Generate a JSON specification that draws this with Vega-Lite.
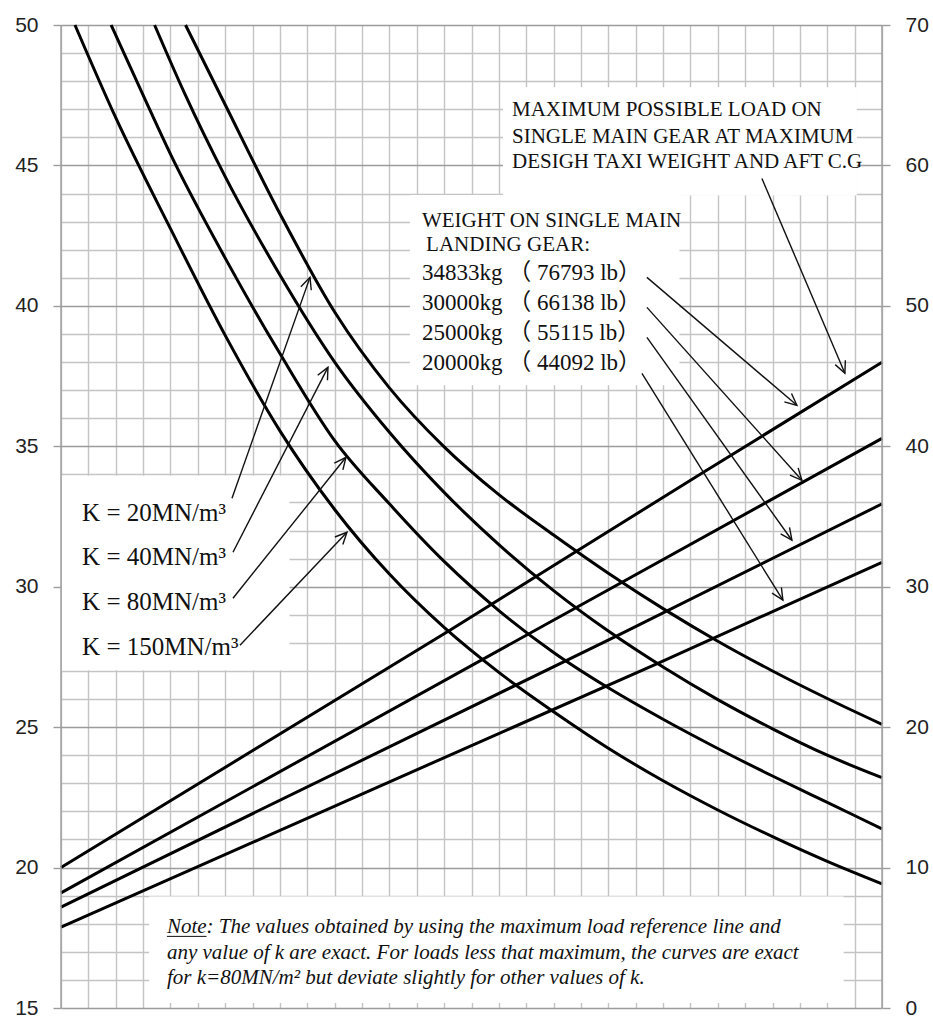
{
  "$schema": "https://vega.github.io/schema/vega-lite/v6.json",
  "width": 821,
  "height": 983,
  "autosize": {"type": "none"},
  "padding": {"left": 61, "top": 25, "right": 51, "bottom": 12},
  "background": "white",
  "config": {
    "view": {"stroke": null},
    "axis": {"labelFont": "Liberation Sans", "labelFontSize": 21, "labelColor": "#222", "title": null}
  },
  "datasets": {
    "curves": [
      {"s": "K20", "x": 4.55, "y": 50}, {"s": "K20", "x": 6, "y": 47.16}, {"s": "K20", "x": 8, "y": 43.28}, {"s": "K20", "x": 10, "y": 39.78}, {"s": "K20", "x": 12, "y": 37.08}, {"s": "K20", "x": 14, "y": 34.98}, {"s": "K20", "x": 16, "y": 33.28}, {"s": "K20", "x": 18, "y": 31.84}, {"s": "K20", "x": 20, "y": 30.48}, {"s": "K20", "x": 22, "y": 29.22}, {"s": "K20", "x": 24, "y": 28.06}, {"s": "K20", "x": 26, "y": 27.0}, {"s": "K20", "x": 28, "y": 26.02}, {"s": "K20", "x": 30, "y": 25.1},
      {"s": "K40", "x": 3.42, "y": 50}, {"s": "K40", "x": 4.5, "y": 47.6}, {"s": "K40", "x": 6, "y": 44.6}, {"s": "K40", "x": 8, "y": 41.1}, {"s": "K40", "x": 10, "y": 38.0}, {"s": "K40", "x": 12, "y": 35.5}, {"s": "K40", "x": 14, "y": 33.36}, {"s": "K40", "x": 16, "y": 31.5}, {"s": "K40", "x": 18, "y": 29.86}, {"s": "K40", "x": 20, "y": 28.42}, {"s": "K40", "x": 22, "y": 27.14}, {"s": "K40", "x": 24, "y": 25.98}, {"s": "K40", "x": 26, "y": 24.94}, {"s": "K40", "x": 28, "y": 24.0}, {"s": "K40", "x": 30, "y": 23.2},
      {"s": "K80", "x": 1.83, "y": 50}, {"s": "K80", "x": 3, "y": 47.5}, {"s": "K80", "x": 4, "y": 45.4}, {"s": "K80", "x": 6, "y": 41.7}, {"s": "K80", "x": 8, "y": 38.3}, {"s": "K80", "x": 10, "y": 35.2}, {"s": "K80", "x": 12, "y": 32.95}, {"s": "K80", "x": 14, "y": 30.9}, {"s": "K80", "x": 16, "y": 29.15}, {"s": "K80", "x": 18, "y": 27.66}, {"s": "K80", "x": 20, "y": 26.4}, {"s": "K80", "x": 22, "y": 25.28}, {"s": "K80", "x": 24, "y": 24.24}, {"s": "K80", "x": 26, "y": 23.26}, {"s": "K80", "x": 28, "y": 22.32}, {"s": "K80", "x": 30, "y": 21.38},
      {"s": "K150", "x": 0.51, "y": 50}, {"s": "K150", "x": 2, "y": 46.7}, {"s": "K150", "x": 4, "y": 42.75}, {"s": "K150", "x": 6, "y": 38.95}, {"s": "K150", "x": 8, "y": 35.55}, {"s": "K150", "x": 10, "y": 32.75}, {"s": "K150", "x": 12, "y": 30.45}, {"s": "K150", "x": 14, "y": 28.55}, {"s": "K150", "x": 16, "y": 26.95}, {"s": "K150", "x": 18, "y": 25.55}, {"s": "K150", "x": 20, "y": 24.25}, {"s": "K150", "x": 22, "y": 23.09}, {"s": "K150", "x": 24, "y": 22.05}, {"s": "K150", "x": 26, "y": 21.1}, {"s": "K150", "x": 28, "y": 20.22}, {"s": "K150", "x": 30, "y": 19.42},
      {"s": "W34833", "x": 0, "y": 20.0}, {"s": "W34833", "x": 14.21, "y": 28.45}, {"s": "W34833", "x": 23.46, "y": 34.07}, {"s": "W34833", "x": 30, "y": 37.99},
      {"s": "W30000", "x": 0, "y": 19.1}, {"s": "W30000", "x": 18.85, "y": 29.27}, {"s": "W30000", "x": 30, "y": 35.28},
      {"s": "W25000", "x": 0, "y": 18.59}, {"s": "W25000", "x": 20.35, "y": 28.27}, {"s": "W25000", "x": 30, "y": 32.95},
      {"s": "W20000", "x": 0, "y": 17.88}, {"s": "W20000", "x": 21.89, "y": 27.31}, {"s": "W20000", "x": 30, "y": 30.87}
    ],
    "boxes": [
      {"b": "max", "x0": 16.15, "x1": 29.08, "y0": 43.93, "y1": 47.78},
      {"b": "weight", "x0": 12.75, "x1": 22.6, "y0": 37.17, "y1": 43.95},
      {"b": "k", "x0": 0.03, "x1": 8.35, "y0": 27.03, "y1": 33.95},
      {"b": "note", "x0": 3.22, "x1": 28.6, "y0": 15.18, "y1": 18.97}
    ],
    "arrows": [
      {"id": "k20s", "o": 1, "x": 6.248, "y": 33.149}, {"id": "k20s", "o": 2, "x": 9.098, "y": 41.014},
      {"id": "k20h", "o": 1, "x": 8.765, "y": 40.683}, {"id": "k20h", "o": 2, "x": 9.098, "y": 41.014}, {"id": "k20h", "o": 3, "x": 9.145, "y": 40.555},
      {"id": "k40s", "o": 1, "x": 6.284, "y": 31.228}, {"id": "k40s", "o": 2, "x": 9.755, "y": 37.811},
      {"id": "k40h", "o": 1, "x": 9.38, "y": 37.528}, {"id": "k40h", "o": 2, "x": 9.755, "y": 37.811}, {"id": "k40h", "o": 3, "x": 9.737, "y": 37.349},
      {"id": "k80s", "o": 1, "x": 6.284, "y": 29.591}, {"id": "k80s", "o": 2, "x": 10.413, "y": 34.609},
      {"id": "k80h", "o": 1, "x": 9.987, "y": 34.404}, {"id": "k80h", "o": 2, "x": 10.413, "y": 34.609}, {"id": "k80h", "o": 3, "x": 10.3, "y": 34.159},
      {"id": "k150s", "o": 1, "x": 6.54, "y": 27.918}, {"id": "k150s", "o": 2, "x": 10.449, "y": 31.94},
      {"id": "k150h", "o": 1, "x": 10.008, "y": 31.77}, {"id": "k150h", "o": 2, "x": 10.449, "y": 31.94}, {"id": "k150h", "o": 3, "x": 10.299, "y": 31.501},
      {"id": "w1s", "o": 1, "x": 21.41, "y": 41.014}, {"id": "w1s", "o": 2, "x": 26.891, "y": 36.459},
      {"id": "w1h", "o": 1, "x": 26.693, "y": 36.88}, {"id": "w1h", "o": 2, "x": 26.891, "y": 36.459}, {"id": "w1h", "o": 3, "x": 26.433, "y": 36.583},
      {"id": "w2s", "o": 1, "x": 21.41, "y": 39.947}, {"id": "w2s", "o": 2, "x": 27.073, "y": 33.79},
      {"id": "w2h", "o": 1, "x": 26.936, "y": 34.233}, {"id": "w2h", "o": 2, "x": 27.073, "y": 33.79}, {"id": "w2h", "o": 3, "x": 26.637, "y": 33.972},
      {"id": "w3s", "o": 1, "x": 21.41, "y": 38.879}, {"id": "w3s", "o": 2, "x": 26.708, "y": 31.655},
      {"id": "w3h", "o": 1, "x": 26.621, "y": 32.11}, {"id": "w3h", "o": 2, "x": 26.708, "y": 31.655}, {"id": "w3h", "o": 3, "x": 26.295, "y": 31.882},
      {"id": "w4s", "o": 1, "x": 21.228, "y": 37.598}, {"id": "w4s", "o": 2, "x": 26.379, "y": 29.52},
      {"id": "w4h", "o": 1, "x": 26.323, "y": 29.979}, {"id": "w4h", "o": 2, "x": 26.379, "y": 29.52}, {"id": "w4h", "o": 3, "x": 25.982, "y": 29.773},
      {"id": "mxs", "o": 1, "x": 25.612, "y": 44.537}, {"id": "mxs", "o": 2, "x": 28.644, "y": 37.598},
      {"id": "mxh", "o": 1, "x": 28.661, "y": 38.06}, {"id": "mxh", "o": 2, "x": 28.644, "y": 37.598}, {"id": "mxh", "o": 3, "x": 28.291, "y": 37.907}
    ],
    "klabels": [
      {"x": 0.77, "y": 32.62, "t": "K = 20MN/m³"},
      {"x": 0.77, "y": 31.05, "t": "K = 40MN/m³"},
      {"x": 0.77, "y": 29.45, "t": "K = 80MN/m³"},
      {"x": 0.77, "y": 27.85, "t": "K = 150MN/m³"}
    ],
    "whead": [
      {"x": 13.19, "y": 43.01, "t": "WEIGHT ON SINGLE MAIN"},
      {"x": 13.34, "y": 42.15, "t": "LANDING GEAR:"}
    ],
    "wnum": [
      {"x": 13.19, "y": 41.16, "t": "34833kg （ 76793 lb）"},
      {"x": 13.19, "y": 40.09, "t": "30000kg （ 66138 lb）"},
      {"x": 13.19, "y": 39.02, "t": "25000kg （ 55115 lb）"},
      {"x": 13.19, "y": 37.95, "t": "20000kg （ 44092 lb）"}
    ],
    "maxtext": [
      {"x": 16.48, "y": 46.96, "t": "MAXIMUM POSSIBLE LOAD ON"},
      {"x": 16.48, "y": 46.0, "t": "SINGLE MAIN GEAR AT MAXIMUM"},
      {"x": 16.48, "y": 45.11, "t": "DESIGH TAXI WEIGHT AND AFT C.G"}
    ],
    "note": [
      {"x": 3.87, "y": 17.88, "t": "Note: The values obtained by using the maximum load reference line and"},
      {"x": 3.87, "y": 16.96, "t": "any value of k are exact. For loads less that maximum, the curves are exact"},
      {"x": 3.87, "y": 16.07, "t": "for k=80MN/m² but deviate slightly for other values of k."}
    ]
  },
  "layer": [
    {
      "layer": [
        {
          "data": {"name": "boxes"},
          "mark": {"type": "rect", "fill": "white", "strokeWidth": 0},
          "encoding": {
            "x": {
              "field": "x0", "type": "quantitative",
              "scale": {"domain": [0, 30], "nice": false, "zero": false},
              "axis": {
                "values": [0,1,2,3,4,5,6,7,8,9,10,11,12,13,14,15,16,17,18,19,20,21,22,23,24,25,26,27,28,29,30],
                "tickCount": 60,
                "grid": true, "gridColor": "#c4c4c4", "gridWidth": 1.4,
                "labels": false, "ticks": false, "domain": false, "title": null
              }
            },
            "x2": {"field": "x1"},
            "y": {
              "field": "y0", "type": "quantitative",
              "scale": {"domain": [15, 50], "nice": false, "zero": false},
              "axis": {
                "orient": "left",
                "values": [15,16,17,18,19,20,21,22,23,24,25,26,27,28,29,30,31,32,33,34,35,36,37,38,39,40,41,42,43,44,45,46,47,48,49,50],
                "tickCount": 80,
                "format": "d",
                "grid": true,
                "gridColor": {"condition": {"test": "datum.value % 5 === 0", "value": "#9c9c9c"}, "value": "#c4c4c4"},
                "gridWidth": 1.4,
                "domain": false,
                "ticks": true, "tickSize": 8, "tickColor": "#9c9c9c", "tickWidth": 1.4,
                "tickOpacity": {"condition": {"test": "datum.value % 5 === 0", "value": 1}, "value": 0},
                "labelExpr": "datum.value % 5 === 0 ? datum.label : ''",
                "labelOverlap": false,
                "labelPadding": 15,
                "title": null
              }
            },
            "y2": {"field": "y1"}
          }
        },
        {
          "data": {"name": "curves"},
          "mark": {"type": "line", "color": "#000", "strokeWidth": 3, "interpolate": "monotone"},
          "encoding": {
            "x": {"field": "x", "type": "quantitative"},
            "y": {"field": "y", "type": "quantitative"},
            "detail": {"field": "s"}
          }
        },
        {
          "data": {"name": "arrows"},
          "mark": {"type": "line", "color": "#111", "strokeWidth": 1.4},
          "encoding": {
            "x": {"field": "x", "type": "quantitative"},
            "y": {"field": "y", "type": "quantitative"},
            "detail": {"field": "id"},
            "order": {"field": "o", "type": "quantitative"}
          }
        },
        {
          "data": {"name": "klabels"},
          "mark": {"type": "text", "align": "left", "baseline": "middle", "font": "Liberation Serif", "fontSize": 25, "color": "#111"},
          "encoding": {
            "x": {"field": "x", "type": "quantitative"},
            "y": {"field": "y", "type": "quantitative"},
            "text": {"field": "t"}
          }
        },
        {
          "data": {"name": "whead"},
          "mark": {"type": "text", "align": "left", "baseline": "middle", "font": "Liberation Serif", "fontSize": 21, "color": "#111"},
          "encoding": {
            "x": {"field": "x", "type": "quantitative"},
            "y": {"field": "y", "type": "quantitative"},
            "text": {"field": "t"}
          }
        },
        {
          "data": {"name": "wnum"},
          "mark": {"type": "text", "align": "left", "baseline": "middle", "font": "Liberation Serif, Noto Sans CJK SC", "fontSize": 23, "color": "#111"},
          "encoding": {
            "x": {"field": "x", "type": "quantitative"},
            "y": {"field": "y", "type": "quantitative"},
            "text": {"field": "t"}
          }
        },
        {
          "data": {"name": "maxtext"},
          "mark": {"type": "text", "align": "left", "baseline": "middle", "font": "Liberation Serif", "fontSize": 21, "color": "#111"},
          "encoding": {
            "x": {"field": "x", "type": "quantitative"},
            "y": {"field": "y", "type": "quantitative"},
            "text": {"field": "t"}
          }
        },
        {
          "data": {"name": "note"},
          "mark": {"type": "text", "align": "left", "baseline": "middle", "font": "Liberation Serif", "fontSize": 21, "fontStyle": "italic", "color": "#111"},
          "encoding": {
            "x": {"field": "x", "type": "quantitative"},
            "y": {"field": "y", "type": "quantitative"},
            "text": {"field": "t"}
          }
        },
        {
          "data": {"values": [{}]},
          "mark": {"type": "rule", "color": "#111", "strokeWidth": 1},
          "encoding": {
            "x": {"datum": 3.87, "type": "quantitative"},
            "x2": {"datum": 5.32},
            "y": {"datum": 17.55, "type": "quantitative"}
          }
        },
        {
          "data": {"values": [{}]},
          "mark": {"type": "rule", "color": "#9c9c9c", "strokeWidth": 1.4},
          "encoding": {
            "x": {"datum": 0, "type": "quantitative"},
            "y": {"datum": 15, "type": "quantitative"},
            "y2": {"datum": 50}
          }
        }
      ]
    },
    {
      "data": {"values": [{}]},
      "mark": {"type": "rule", "color": "#9c9c9c", "strokeWidth": 1.4},
      "encoding": {
        "x": {"datum": 30, "type": "quantitative"},
        "y": {
          "datum": 0, "type": "quantitative",
          "scale": {"domain": [0, 70], "nice": false, "zero": false},
          "axis": {
            "orient": "right",
            "values": [0, 10, 20, 30, 40, 50, 60, 70],
            "format": "d",
            "grid": false, "domain": false,
            "ticks": true, "tickSize": 8, "tickColor": "#9c9c9c", "tickWidth": 1.4,
            "labelPadding": 15,
            "title": null
          }
        },
        "y2": {"datum": 70}
      }
    }
  ],
  "resolve": {"scale": {"y": "independent"}}
}
